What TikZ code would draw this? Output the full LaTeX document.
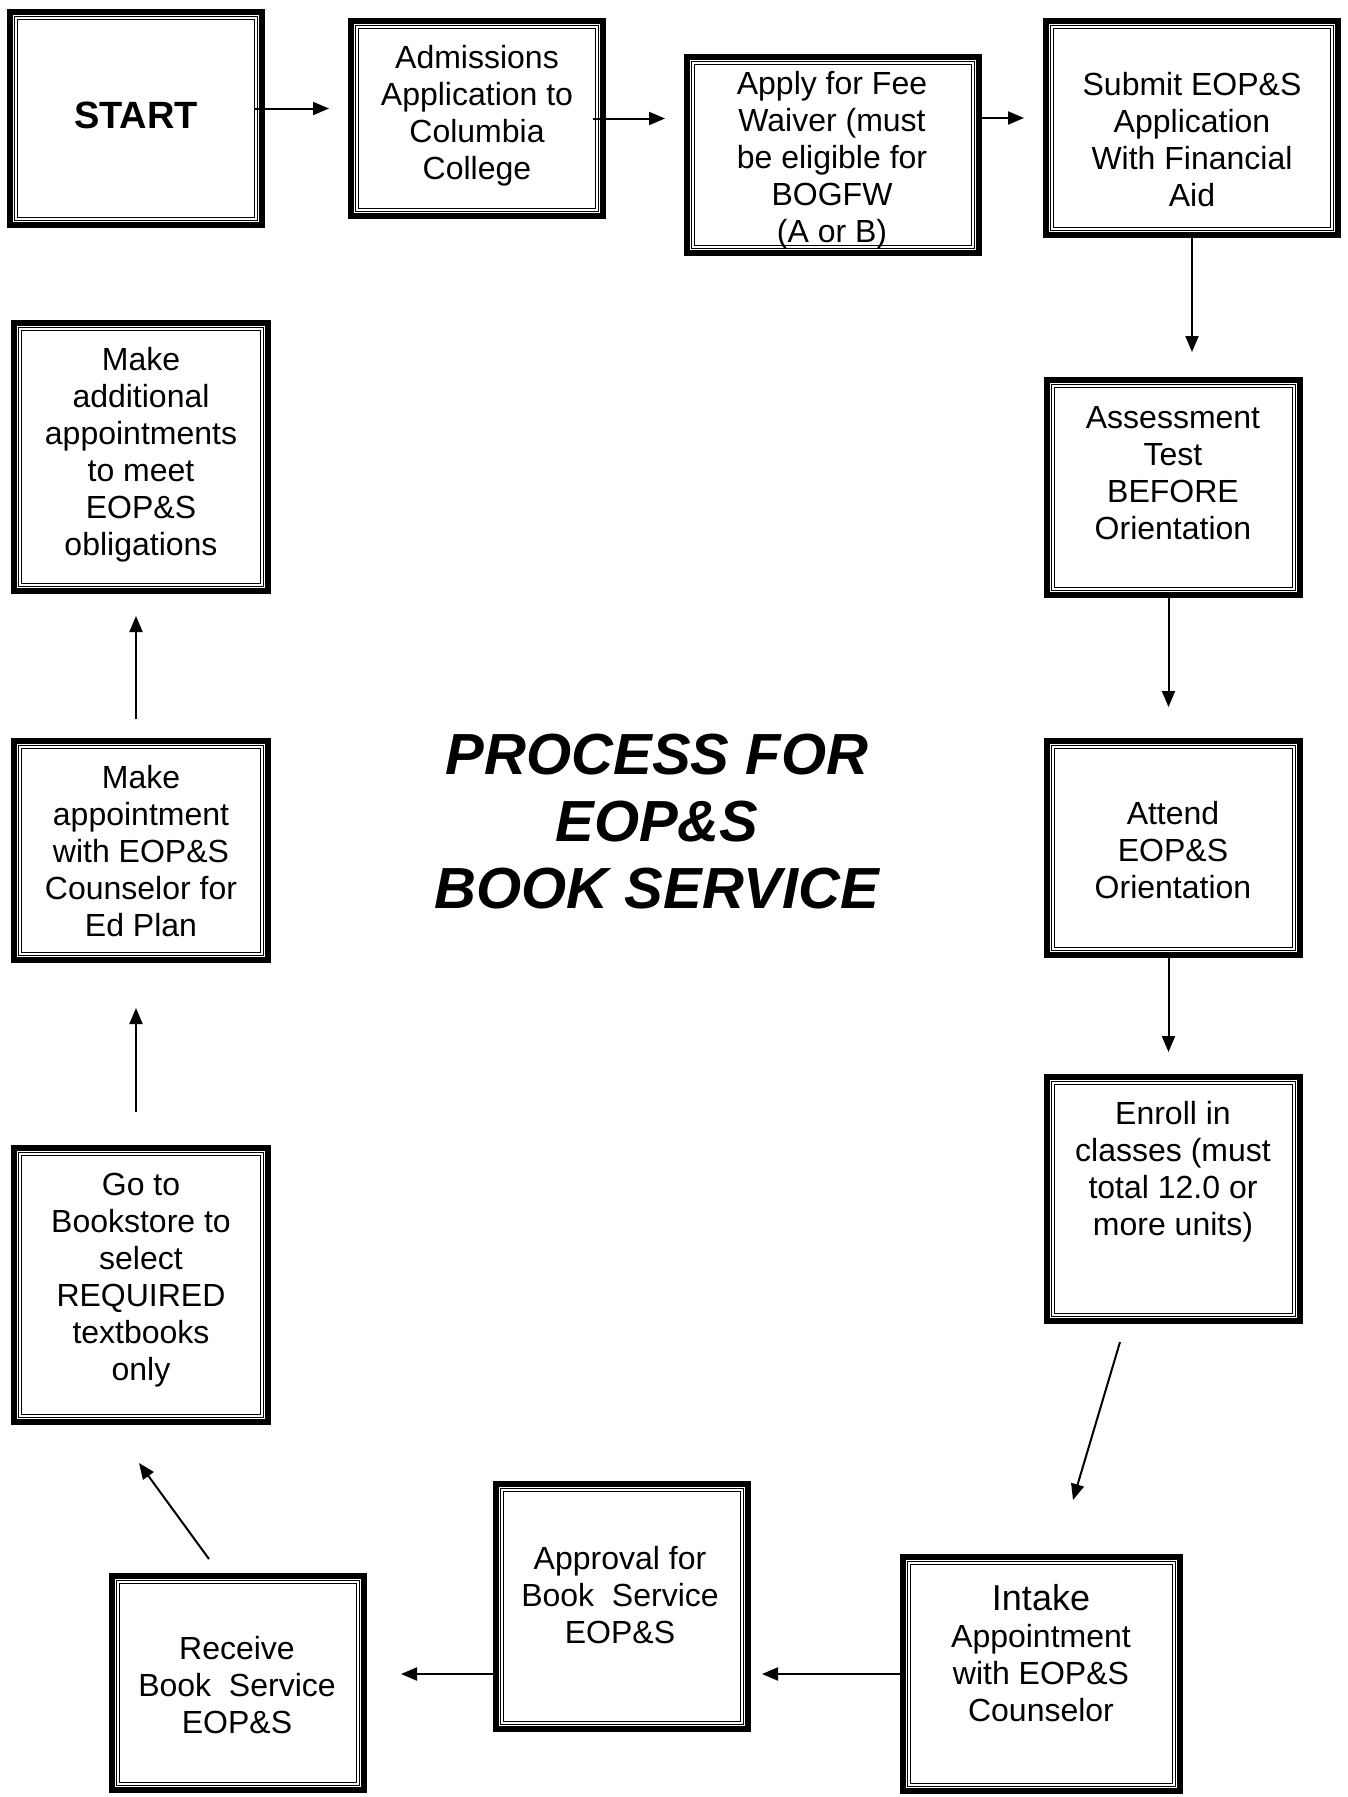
\documentclass[tikz,border=0pt]{standalone}
\usepackage{fontspec}
\setmainfont{Liberation Sans}
\usetikzlibrary{arrows.meta,calc}
\newcommand\framedbox[5]{%
  \node[boxnode, minimum width=#4pt, minimum height=#5pt] (#1) at (#2,#3) {};
  \draw[thickrule] ([shift={(3,3)}]#1.north west) rectangle ([shift={(-3,-3)}]#1.south east);
  \draw[thinrule] ([shift={(7.5,7.5)}]#1.north west) rectangle ([shift={(-7.5,-7.5)}]#1.south east);
  \draw[thinrule] ([shift={(10.5,10.5)}]#1.north west) rectangle ([shift={(-10.5,-10.5)}]#1.south east);
}
\begin{document}
\begin{tikzpicture}[x=1pt,y=-1pt,
  boxnode/.style={rectangle, inner sep=0pt, outer sep=0pt},
  thickrule/.style={line width=6pt},
  thinrule/.style={line width=1.2pt},
  boxtext/.style={font=\fontsize{32}{37}\selectfont, align=center, inner sep=0pt},
  flow/.style={line width=2pt, -{Triangle[length=16pt,width=13pt]}},
  titletext/.style={font=\fontsize{58}{67}\selectfont\bfseries\itshape, align=center, inner sep=0pt}]
\fill[white] (0,0) rectangle (1348,1797);
\useasboundingbox (0,0) rectangle (1348,1797);

\framedbox{start}{136}{118.5}{258}{219}
\framedbox{adm}{477}{118.5}{258}{201}
\framedbox{fee}{833}{155}{298}{202}
\framedbox{sub}{1192}{128}{298}{220}
\framedbox{ass}{1173.5}{487.5}{259}{221}
\framedbox{att}{1173.5}{848}{259}{220}
\framedbox{enr}{1173.5}{1199}{259}{250}
\framedbox{int}{1041.5}{1674}{283}{240}
\framedbox{app}{622}{1606.5}{258}{251}
\framedbox{rec}{238}{1683}{258}{220}
\framedbox{book}{141}{1285}{260}{280}
\framedbox{mka}{141}{850.5}{260}{225}
\framedbox{add}{141}{457}{260}{274}

\node[boxtext, font=\fontsize{38}{44}\selectfont\bfseries] (tstart) at (136,115) {START};
\node[boxtext] (tadm) at (477,116) {Admissions\\Application to\\Columbia\\College};
\node[boxtext] (tfee) at (832,160) {Apply for Fee\\Waiver (must\\be eligible for\\BOGFW\\(A or B)};
\node[boxtext] (tsub) at (1192,140) {Submit EOP\&S\\Application\\With Financial\\Aid};
\node[boxtext] (tass) at (1173,473) {Assessment\\Test\\BEFORE\\Orientation};
\node[boxtext] (tatt) at (1173,850.5) {Attend\\EOP\&S\\Orientation};
\node[boxtext] (tenr) at (1173,1172) {Enroll in\\classes (must\\total 12.0 or\\more units)};
\node[boxtext] (tint) at (1041,1653) {{\fontsize{36}{40}\selectfont Intake}\\Appointment\\with EOP\&S\\Counselor};
\node[boxtext] (tapp) at (620,1595) {Approval for\\Book~~Service\\EOP\&S};
\node[boxtext] (trec) at (237,1685) {Receive\\Book~~Service\\EOP\&S};
\node[boxtext] (tbook) at (141,1280.5) {Go to\\Bookstore to\\select\\REQUIRED\\textbooks\\only};
\node[boxtext] (tmka) at (141,851.5) {Make\\appointment\\with EOP\&S\\Counselor for\\Ed Plan};
\node[boxtext] (tadd) at (141,454.5) {Make\\additional\\appointments\\to meet\\EOP\&S\\obligations};

\node[titletext] (title) at (657,821.5) {PROCESS FOR\\EOP\&S\\BOOK SERVICE};

\draw[flow] ($(start.east)+(-10,-10)$) -- ($(adm.west)+(-19,-10)$);
\draw[flow] ($(adm.east)+(-13,0)$) -- ($(adm.east -| fee.west)+(-19,0)$);
\draw[flow] ($(sub.west -| fee.east)+(0,-10)$) -- ($(sub.west)+(-19,-10)$);
\draw[flow] (sub.south) -- ($(sub.south |- ass.north)+(0,-25)$);
\draw[flow] ($(ass.south)+(-5,0)$) -- ($(att.north)+(-5,-31)$);
\draw[flow] ($(att.south)+(-5,0)$) -- ($(enr.north)+(-5,-22)$);
\coordinate (enrout) at ($(enr.south)+(-53.5,18)$);
\draw[flow] (enrout) -- ($(int.north)+(31.5,-54)$);
\draw[flow] (int.west) -- ($(int.west -| app.east)+(11,0)$);
\draw[flow] (int.west -| app.west) -- ($(int.west -| rec.east)+(34,0)$);
\coordinate (recout) at ($(rec.north)+(-29,-14)$);
\draw[flow] (recout) -- ($(book.south)+(-2,38)$);
\draw[flow] ($(book.north)+(-5,-33)$) -- ($(mka.south)+(-5,45)$);
\draw[flow] ($(mka.north)+(-5,-19)$) -- ($(add.south)+(-5,22)$);
\end{tikzpicture}
\end{document}
